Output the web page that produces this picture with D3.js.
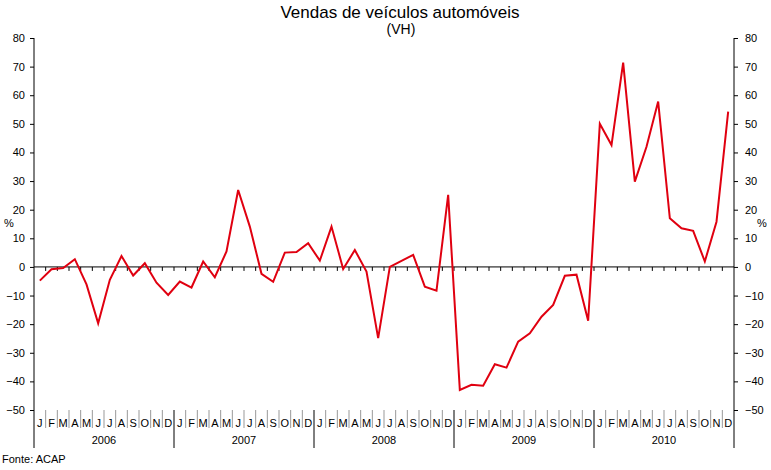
<!DOCTYPE html>
<html><head><meta charset="utf-8">
<script src="https://cdnjs.cloudflare.com/ajax/libs/d3/7.8.5/d3.min.js"></script>
<style>body{margin:0;background:#fff}svg{display:block;font-family:"Liberation Sans",Arial,sans-serif}</style>
</head><body>
<script>
const years = ["2006","2007","2008","2009","2010"];
const monthLetters = ["J","F","M","A","M","J","J","A","S","O","N","D"];
const values = [
  -4.8,-0.8,-0.4,2.7,-6.1,-19.7,-4.5,3.8,-3.0,1.3,-5.5,-9.8,
  -5.1,-7.2,1.9,-3.6,5.4,26.9,14.1,-2.4,-5.2,5.0,5.2,8.3,
  2.2,14.1,-0.7,5.9,-1.6,-24.9,0.0,2.1,4.2,-6.9,-8.3,25.2,
  -43.0,-41.2,-41.5,-34.0,-35.2,-26.1,-23.2,-17.4,-13.3,-3.1,-2.7,-18.8,
  50.0,42.6,71.4,29.8,42.0,57.8,17.0,13.5,12.6,1.9,15.8,54.3
];
const yTicks = [80,70,60,50,40,30,20,10,0,-10,-20,-30,-40,-50];

const W=771,H=470, L=34, R=734, T=38, B=410;
const svg=d3.select("body").append("svg").attr("width",W).attr("height",H);
const idx=d3.range(values.length);
const x=d3.scaleBand().domain(idx).range([L,R]).paddingInner(0).paddingOuter(0);
const y=d3.scaleLinear().domain([-50,80]).range([B,T]);
const cx=i=>x(i)+x.bandwidth()/2;

svg.append("text").attr("x",400).attr("y",18).attr("text-anchor","middle").attr("font-size",17).attr("font-weight",300).text("Vendas de veículos automóveis");
svg.append("text").attr("x",401).attr("y",34).attr("text-anchor","middle").attr("font-size",14).text("(VH)");

// left axis
const la=svg.append("g").attr("transform",`translate(${L},0)`).call(d3.axisLeft(y).tickValues(yTicks).tickSize(4).tickPadding(5));
la.select(".domain").remove();
la.selectAll("text").attr("font-size",11).attr("font-family","Liberation Sans, Arial, sans-serif");
const ra=svg.append("g").attr("transform",`translate(${R},0)`).call(d3.axisRight(y).tickValues(yTicks).tickSize(4).tickPadding(7));
ra.select(".domain").remove();
ra.selectAll("text").attr("font-size",11).attr("font-family","Liberation Sans, Arial, sans-serif");
svg.append("line").attr("x1",L).attr("x2",L).attr("y1",T).attr("y2",448).attr("stroke","#000");
svg.append("line").attr("x1",R).attr("x2",R).attr("y1",T).attr("y2",448).attr("stroke","#000");
svg.append("text").attr("x",4).attr("y",227).attr("font-size",11).text("%");
svg.append("text").attr("x",757).attr("y",227).attr("font-size",11).text("%");

// zero line with ticks
svg.append("line").attr("x1",L).attr("x2",R).attr("y1",y(0)).attr("y2",y(0)).attr("stroke","#000");
svg.append("g").selectAll("line").data(d3.range(1,values.length)).join("line")
  .attr("x1",i=>x(i)).attr("x2",i=>x(i)).attr("y1",y(0)).attr("y2",y(0)+4).attr("stroke","#000");

// month separators and labels
svg.append("g").selectAll("line").data(d3.range(1,values.length).filter(i=>i%12!==0)).join("line")
  .attr("x1",i=>x(i)).attr("x2",i=>x(i)).attr("y1",410).attr("y2",428).attr("stroke","#999");
svg.append("g").selectAll("line").data([12,24,36,48]).join("line")
  .attr("x1",i=>x(i)).attr("x2",i=>x(i)).attr("y1",410).attr("y2",448).attr("stroke","#000");
svg.append("g").selectAll("text").data(idx).join("text")
  .attr("x",i=>cx(i)).attr("y",427).attr("text-anchor","middle").attr("font-size",11)
  .text(i=>monthLetters[i%12]);
svg.append("g").selectAll("text").data(years).join("text")
  .attr("x",(d,k)=>(x(k*12)+x(k*12+11)+x.bandwidth())/2).attr("y",444).attr("text-anchor","middle").attr("font-size",11)
  .text(d=>d);
svg.append("text").attr("x",2).attr("y",463).attr("font-size",11).text("Fonte: ACAP");

// line
svg.append("path").datum(values).attr("fill","none").attr("stroke","#e00010").attr("stroke-width",2)
  .attr("d",d3.line().x((d,i)=>cx(i)).y(d=>y(d)));
</script>
</body></html>
